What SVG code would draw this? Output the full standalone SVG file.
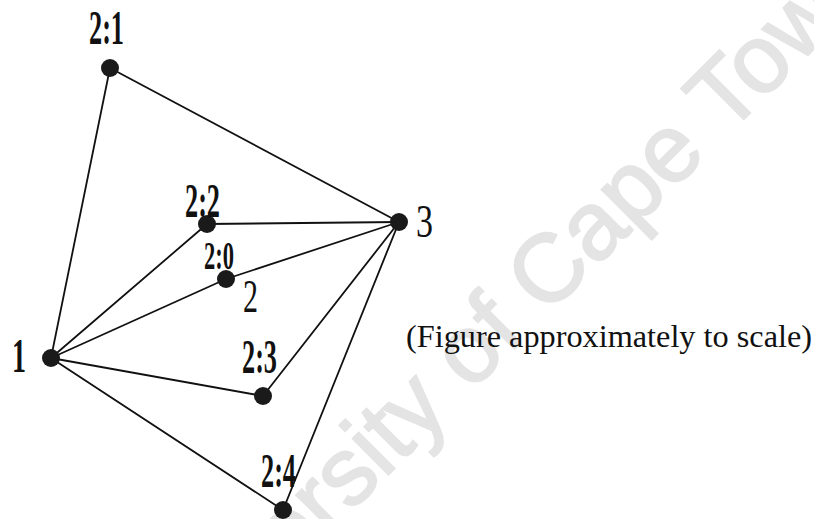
<svg xmlns="http://www.w3.org/2000/svg" width="814" height="519" viewBox="0 0 814 519">
<style>
.edge{stroke:#111;stroke-width:1.8;fill:none;stroke-linecap:round}
.dot{fill:#1a1a1a}
.lbl{font-family:"Liberation Serif","Times New Roman",serif;font-weight:bold;fill:#111}
.lbn{font-family:"Liberation Serif","Times New Roman",serif;fill:#111}
.wm{font-family:"Liberation Sans",Arial,sans-serif;fill:#e4e4e4;stroke:#e4e4e4;stroke-width:2}
</style>
<rect width="814" height="519" fill="#fff"/>
<text class="wm" font-size="96" transform="translate(154,709) rotate(-45)">University of Cape Town</text>
<g id="connectors">
<line class="edge" x1="51" y1="358" x2="110" y2="68"/>
<line class="edge" x1="110" y1="68" x2="399" y2="222"/>
<line class="edge" x1="51" y1="358" x2="207" y2="224"/>
<line class="edge" x1="51" y1="358" x2="226" y2="279"/>
<line class="edge" x1="51" y1="358" x2="263" y2="396"/>
<line class="edge" x1="51" y1="358" x2="283" y2="510"/>
<line class="edge" x1="207" y1="224" x2="399" y2="222"/>
<line class="edge" x1="226" y1="279" x2="399" y2="222"/>
<line class="edge" x1="263" y1="396" x2="399" y2="222"/>
<line class="edge" x1="283" y1="510" x2="399" y2="222"/>
</g>
<g id="n1"><circle class="dot" cx="51" cy="358" r="9"/><text class="lbl" x="12" y="372" font-size="48" textLength="14" lengthAdjust="spacingAndGlyphs">1</text></g>
<g id="n21"><circle class="dot" cx="110" cy="68" r="9"/><text class="lbl" x="89" y="44" font-size="48" textLength="35" lengthAdjust="spacingAndGlyphs">2:1</text></g>
<g id="n22"><circle class="dot" cx="207" cy="224" r="9"/><text class="lbl" x="185" y="217" font-size="48" textLength="35" lengthAdjust="spacingAndGlyphs">2:2</text></g>
<g id="n20"><circle class="dot" cx="226" cy="279" r="9"/><text class="lbl" x="204" y="269" font-size="40" textLength="30" lengthAdjust="spacingAndGlyphs">2:0</text><text class="lbn" x="243" y="312" font-size="46" textLength="15" lengthAdjust="spacingAndGlyphs">2</text></g>
<g id="n3"><circle class="dot" cx="399" cy="222" r="9"/><text class="lbn" x="416" y="237" font-size="46" textLength="17" lengthAdjust="spacingAndGlyphs">3</text></g>
<g id="n23"><circle class="dot" cx="263" cy="396" r="9"/><text class="lbl" x="242" y="373" font-size="48" textLength="35" lengthAdjust="spacingAndGlyphs">2:3</text></g>
<g id="n24"><circle class="dot" cx="283" cy="510" r="9"/><text class="lbl" x="261" y="487" font-size="48" textLength="35" lengthAdjust="spacingAndGlyphs">2:4</text></g>
<text class="lbn" x="406" y="347" font-size="32" textLength="406" lengthAdjust="spacingAndGlyphs">(Figure approximately to scale)</text>
</svg>
